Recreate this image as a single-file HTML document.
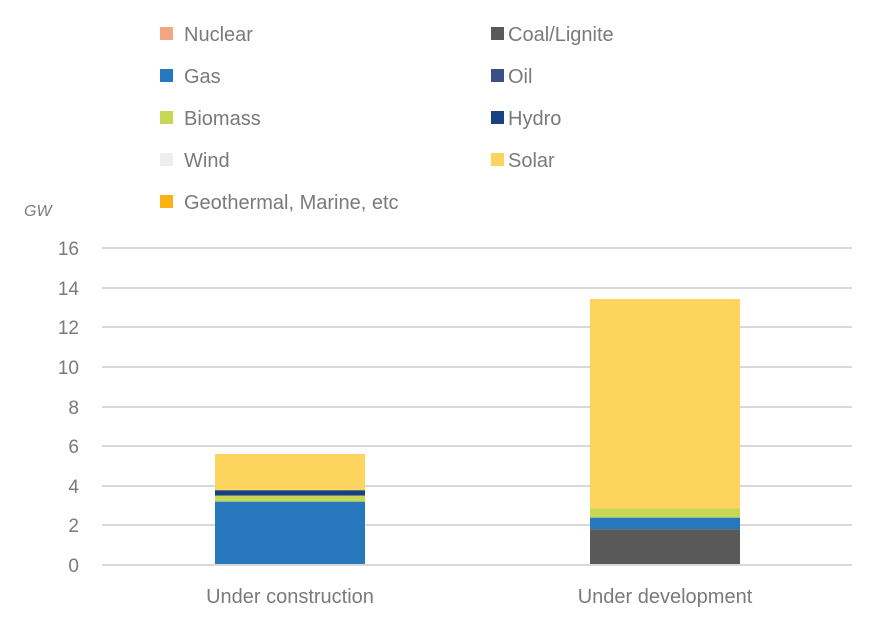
<!DOCTYPE html>
<html><head><style>
body{margin:0;background:#fff;}
svg text{font-family:"Liberation Sans",sans-serif;fill:#7a7a7a;}
</style></head><body>
<svg width="882" height="634" viewBox="0 0 882 634" xmlns="http://www.w3.org/2000/svg">
<g font-size="20">
<rect x="160" y="27" width="13" height="13" fill="#f4a582"/><text x="184" y="41">Nuclear</text>
<rect x="491" y="27" width="13" height="13" fill="#595959"/><text x="508" y="41">Coal/Lignite</text>
<rect x="160" y="69" width="13" height="13" fill="#2878bd"/><text x="184" y="83">Gas</text>
<rect x="491" y="69" width="13" height="13" fill="#3b4f87"/><text x="508" y="83">Oil</text>
<rect x="160" y="111" width="13" height="13" fill="#c7d754"/><text x="184" y="125">Biomass</text>
<rect x="491" y="111" width="13" height="13" fill="#17417f"/><text x="508" y="125">Hydro</text>
<rect x="160" y="153" width="13" height="13" fill="#eeeeee"/><text x="184" y="167">Wind</text>
<rect x="491" y="153" width="13" height="13" fill="#fcd45e"/><text x="508" y="167">Solar</text>
<rect x="160" y="195" width="13" height="13" fill="#fbb117"/><text x="184" y="209">Geothermal, Marine, etc</text>
</g>
<text x="24" y="216" font-size="16" font-style="italic">GW</text>
<g stroke="#d9d9d9" stroke-width="2">
<line x1="102" y1="248" x2="852" y2="248"/>
<line x1="102" y1="288" x2="852" y2="288"/>
<line x1="102" y1="327" x2="852" y2="327"/>
<line x1="102" y1="367" x2="852" y2="367"/>
<line x1="102" y1="407" x2="852" y2="407"/>
<line x1="102" y1="446" x2="852" y2="446"/>
<line x1="102" y1="486" x2="852" y2="486"/>
<line x1="102" y1="525" x2="852" y2="525"/>
<line x1="102" y1="565" x2="852" y2="565"/>
</g>
<g font-size="19" text-anchor="end">
<text x="79" y="255">16</text><text x="79" y="295">14</text><text x="79" y="334">12</text>
<text x="79" y="374">10</text><text x="79" y="414">8</text><text x="79" y="453">6</text>
<text x="79" y="493">4</text><text x="79" y="532">2</text><text x="79" y="572">0</text>
</g>
<rect x="215" y="454" width="150" height="36.3" fill="#fcd45e"/>
<rect x="215" y="490.3" width="150" height="5.4" fill="#17417f"/>
<rect x="215" y="495.7" width="150" height="6" fill="#c7d754"/>
<rect x="215" y="501.7" width="150" height="63.3" fill="#2878bd"/>
<rect x="590" y="299" width="150" height="209.3" fill="#fcd45e"/>
<rect x="590" y="508.3" width="150" height="9.4" fill="#c7d754"/>
<rect x="590" y="517.7" width="150" height="11.6" fill="#2878bd"/>
<rect x="590" y="529.3" width="150" height="35.7" fill="#595959"/>
<line x1="102" y1="565" x2="852" y2="565" stroke="#d9d9d9" stroke-width="2"/>
<g font-size="20" text-anchor="middle">
<text x="290" y="603">Under construction</text>
<text x="665" y="603">Under development</text>
</g>
</svg>
</body></html>
